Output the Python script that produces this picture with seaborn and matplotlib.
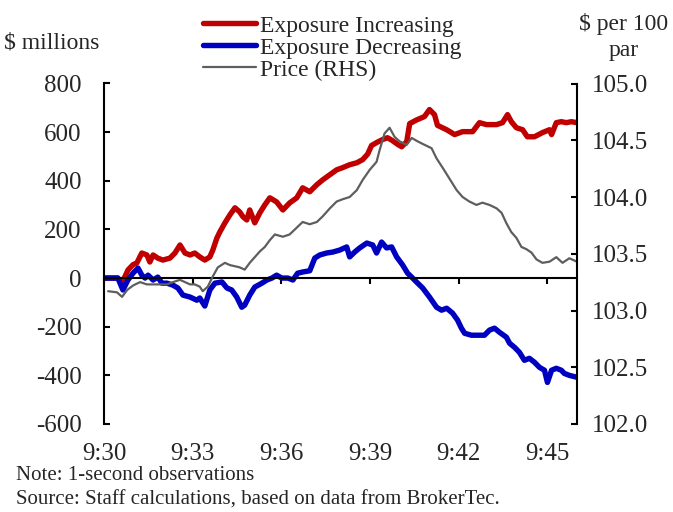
import matplotlib
matplotlib.use("Agg")
import matplotlib.pyplot as plt
import seaborn as sns
import pandas as pd

# minutes after 9:30
red_t = [0.00, 0.27, 0.47, 0.61, 0.81, 0.98, 1.11, 1.28, 1.45, 1.55, 1.66, 1.82, 1.99, 2.23, 2.40, 2.57,
         2.74, 2.91, 3.07, 3.24, 3.41, 3.58, 3.68, 3.82, 3.92, 4.09, 4.26, 4.43, 4.59, 4.70, 4.83, 4.93,
         5.10, 5.27, 5.44, 5.61, 5.84, 6.05, 6.28, 6.52, 6.72, 6.96, 7.20, 7.40, 7.64, 7.87, 8.07, 8.31,
         8.55, 8.75, 8.92, 9.05, 9.22, 9.43, 9.59, 9.76, 9.93, 10.07, 10.24, 10.34, 10.57, 10.84, 11.01,
         11.18, 11.28, 11.45, 11.59, 11.86, 12.13, 12.47, 12.70, 12.94, 13.28, 13.48, 13.65, 13.78, 13.95,
         14.16, 14.32, 14.56, 14.83, 15.07, 15.14, 15.30, 15.47, 15.64, 15.81, 16.00]
red_v = [0, 0, 0, -20, 33, 55, 62, 103, 95, 66, 95, 82, 74, 82, 103, 136,
         103, 95, 103, 87, 74, 87, 115, 165, 190, 227, 260, 289, 272, 252, 239, 280,
         227, 268, 301, 330, 313, 280, 309, 330, 371, 355, 384, 404, 425, 445, 454, 466,
         474, 487, 510, 545, 557, 570, 577, 565, 550, 540, 561, 635, 650, 664, 693,
         672, 628, 618, 610, 590, 602, 602, 639, 631, 631, 639, 672, 643, 618,
         610, 581, 581, 598, 610, 590, 639, 643, 639, 643, 639]

blue_t = [0.00, 0.27, 0.47, 0.64, 0.81, 0.98, 1.15, 1.28, 1.39, 1.49, 1.66, 1.82, 1.96, 2.13, 2.33, 2.50,
          2.67, 2.91, 3.14, 3.24, 3.41, 3.58, 3.75, 3.99, 4.16, 4.32, 4.49, 4.66, 4.76, 4.93, 5.10, 5.34,
          5.51, 5.68, 5.84, 6.01, 6.22, 6.39, 6.55, 6.72, 6.96, 7.13, 7.30, 7.53, 7.74, 7.97, 8.21, 8.31,
          8.48, 8.65, 8.89, 9.09, 9.22, 9.39, 9.56, 9.73, 9.90, 10.10, 10.27, 10.44, 10.57, 10.78, 11.01,
          11.25, 11.42, 11.59, 11.79, 11.96, 12.09, 12.20, 12.43, 12.64, 12.87, 13.04, 13.21, 13.38, 13.61,
          13.72, 13.89, 14.05, 14.22, 14.39, 14.56, 14.73, 14.90, 15.00, 15.14, 15.30, 15.47, 15.57, 15.74, 16.00]
blue_v = [0, 0, 0, -49, -8, 20, 41, 12, 0, 12, -8, 4, -21, -21, -29, -41,
          -70, -78, -91, -82, -115, -49, -21, -16, -41, -49, -78, -120, -111, -70, -37, -21,
          -8, 0, 12, 0, 0, -8, 20, 25, 30, 82, 95, 103, 107, 115, 128, 87,
          107, 124, 144, 136, 103, 148, 124, 128, 87, 54, 20, 0, -16, -41, -78,
          -120, -132, -124, -144, -173, -206, -227, -235, -235, -235, -214, -206, -223, -243,
          -268, -285, -305, -338, -330, -346, -367, -379, -429, -379, -371, -379, -392, -400, -408]

price_t = [0.14, 0.44, 0.61, 0.78, 0.98, 1.22, 1.45, 1.66, 1.89, 2.13, 2.33, 2.57, 2.74, 2.91, 3.07, 3.24,
           3.34, 3.51, 3.68, 3.85, 4.09, 4.26, 4.43, 4.59, 4.76, 4.93, 5.10, 5.27, 5.44, 5.61, 5.78, 6.05,
           6.28, 6.52, 6.72, 6.96, 7.20, 7.40, 7.64, 7.87, 8.07, 8.31, 8.55, 8.75, 8.99, 9.22, 9.32, 9.49,
           9.66, 9.83, 10.00, 10.24, 10.41, 10.61, 10.84, 11.08, 11.25, 11.45, 11.69, 11.93, 12.13, 12.36,
           12.60, 12.80, 13.04, 13.28, 13.45, 13.61, 13.78, 13.95, 14.12, 14.29, 14.46, 14.63, 14.83, 15.07,
           15.30, 15.51, 15.74, 16.00]
price_v = [103.17, 103.16, 103.12, 103.18, 103.22, 103.25, 103.23, 103.23, 103.23, 103.23, 103.25, 103.27,
           103.25, 103.23, 103.23, 103.21, 103.17, 103.21, 103.30, 103.38, 103.42, 103.40, 103.39, 103.38,
           103.36, 103.42, 103.47, 103.52, 103.56, 103.62, 103.67, 103.65, 103.67, 103.73, 103.78, 103.76,
           103.78, 103.83, 103.90, 103.96, 103.98, 104.00, 104.06, 104.15, 104.24, 104.31, 104.41, 104.56,
           104.61, 104.53, 104.49, 104.46, 104.52, 104.49, 104.46, 104.43, 104.34, 104.26, 104.16, 104.06,
           104.00, 103.96, 103.93, 103.95, 103.93, 103.90, 103.86, 103.77, 103.69, 103.64, 103.56, 103.54,
           103.51, 103.45, 103.42, 103.43, 103.47, 103.42, 103.46, 103.43]

x_ticks = [0, 3, 6, 9, 12, 15]
x_labels = ["9:30", "9:33", "9:36", "9:39", "9:42", "9:45"]
left_ticks = [-600, -400, -200, 0, 200, 400, 600, 800]
right_ticks = [102.0, 102.5, 103.0, 103.5, 104.0, 104.5, 105.0]

sns.set_theme(style="white")
plt.rcParams["font.family"] = ["Liberation Serif", "DejaVu Serif"]
plt.rcParams["axes.linewidth"] = 1.5

fig = plt.figure(figsize=(6.73, 5.12), dpi=100)
ax = fig.add_axes([104 / 673, 1 - 424 / 512, (577 - 104) / 673, (424 - 83.5) / 512])
ax.set_facecolor("none")
ax2 = ax.twinx()

red_df = pd.DataFrame({"t": red_t, "v": red_v})
blue_df = pd.DataFrame({"t": blue_t, "v": blue_v})
price_df = pd.DataFrame({"t": price_t, "v": price_v})

sns.lineplot(data=red_df, x="t", y="v", ax=ax, color="#C00000", linewidth=3.9,
             label="Exposure Increasing", legend=False)
sns.lineplot(data=blue_df, x="t", y="v", ax=ax, color="#0000C0", linewidth=3.9,
             label="Exposure Decreasing", legend=False)
sns.lineplot(data=price_df, x="t", y="v", ax=ax2, color="#5E5E5E", linewidth=1.6,
             label="Price (RHS)", legend=False)

ax.set_xlim(0, 16)
ax.set_ylim(-600, 800)
ax2.set_ylim(102, 105)
ax.set_xlabel("")
ax.set_ylabel("")
ax2.set_ylabel("")

for s in ["top", "right"]:
    ax.spines[s].set_visible(False)
for s in ["top", "bottom", "left"]:
    ax2.spines[s].set_visible(False)
for s in ["left", "bottom"]:
    ax.spines[s].set_color("black")
ax2.spines["right"].set_color("black")
ax.spines["bottom"].set_position(("data", 0))

ax.set_yticks(left_ticks)
ax.set_yticklabels([str(v) for v in left_ticks])
ax2.set_yticks(right_ticks)
ax2.set_yticklabels([f"{v:.1f}" for v in right_ticks])
ax.set_xticks(x_ticks)
ax.tick_params(axis="x", direction="out", length=4, width=1.5, color="black",
               labelbottom=False, bottom=True)
ax.tick_params(axis="y", direction="in", length=4, width=1.5, color="black",
               labelsize=18, pad=16, left=True)
ax2.tick_params(axis="y", direction="in", length=4, width=1.5, color="black",
                labelsize=18, pad=11, right=True)

sec = ax.secondary_xaxis("bottom")
sec.spines["bottom"].set_visible(False)
sec.set_xticks(x_ticks)
sec.set_xticklabels(x_labels)
sec.tick_params(axis="x", length=0, labelsize=18, pad=14)

h1, l1 = ax.get_legend_handles_labels()
h2, l2 = ax2.get_legend_handles_labels()
fig.legend(h1 + h2, l1 + l2, loc="upper left", bbox_to_anchor=(189 / 673, 1 - 1 / 512),
           frameon=False, fontsize=17, handlelength=2.25, handletextpad=0.15,
           labelspacing=0.02, borderpad=0.1)

fig.text(52 / 673, 1 - 43 / 512, "$ millions", ha="center", va="center", fontsize=17)
fig.text(624 / 673, 1 - 37 / 512, "$ per 100\npar", ha="center", va="center",
         fontsize=17, linespacing=1.3, multialignment="center")
fig.text(16 / 673, 1 - 476 / 512, "Note: 1-second observations", ha="left", va="center",
         fontsize=15)
fig.text(16 / 673, 1 - 500 / 512, "Source: Staff calculations, based on data from BrokerTec.",
         ha="left", va="center", fontsize=15)

fig.savefig("out.png", dpi=100)
